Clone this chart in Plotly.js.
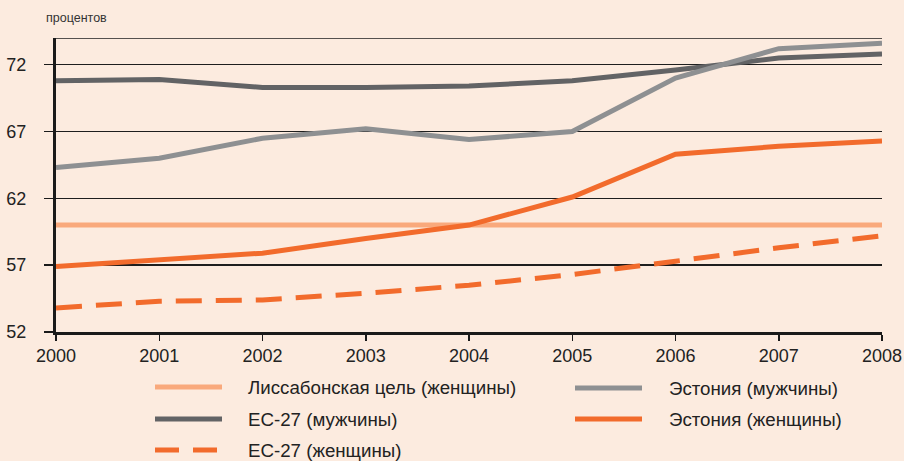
<!DOCTYPE html>
<html>
<head>
<meta charset="utf-8">
<script src="https://cdn.plot.ly/plotly-3.0.1.min.js"></script>
<style>html,body{margin:0;padding:0;background:#FCEBDF;}</style>
</head>
<body>
<div id="chart" style="width:904px;height:461px;"></div>
<script>
const years = [2000, 2001, 2002, 2003, 2004, 2005, 2006, 2007, 2008];
const lisbonTarget = [60, 60, 60, 60, 60, 60, 60, 60, 60];
const eu27Men = [70.8, 70.9, 70.3, 70.3, 70.4, 70.8, 71.6, 72.5, 72.8];
const eu27Women = [53.8, 54.3, 54.4, 54.9, 55.5, 56.3, 57.3, 58.3, 59.2];
const estoniaMen = [64.3, 65.0, 66.5, 67.2, 66.4, 67.0, 71.0, 73.2, 73.6];
const estoniaWomen = [56.9, 57.4, 57.9, 59.0, 60.0, 62.1, 65.3, 65.9, 66.3];
const yTicks = [52, 57, 62, 67, 72];
const names = ['Лиссабонская цель (женщины)', 'ЕС-27 (мужчины)', 'ЕС-27 (женщины)', 'Эстония (мужчины)', 'Эстония (женщины)'];
const colors = ['#F9A97C', '#626365', '#F26B2C', '#8E9092', '#F26B2C'];
const dashes = ['solid', 'solid', '26px,14px', 'solid', 'solid'];
const series = [lisbonTarget, eu27Men, eu27Women, estoniaMen, estoniaWomen];

const font = 'Liberation Sans, Arial, sans-serif';
const traces = series.map((s, i) => ({
  x: years, y: s, name: names[i], type: 'scatter', mode: 'lines',
  line: {color: colors[i], width: 5, dash: dashes[i]},
  showlegend: false, hoverinfo: 'skip'
}));

// manual legend layout (paper coords)
const W = 826, H = 294;
const px = v => (v - 56) / W;
const py = v => (332 - v) / H;
const legPos = [
  {x0: 155, x1: 222, tx: 246, y: 387},
  {x0: 155, x1: 222, tx: 246, y: 419},
  {x0: 155, x1: 222, tx: 246, y: 450},
  {x0: 575, x1: 642, tx: 667, y: 388},
  {x0: 575, x1: 642, tx: 667, y: 419}
];
const shapes = [
  {type: 'line', xref: 'paper', yref: 'y', x0: 0, x1: 1, y0: 74, y1: 74,
   line: {color: '#1e1e1e', width: 1.5}}
];
const annotations = [
  {text: 'процентов', xref: 'paper', yref: 'paper', x: px(44), y: py(18),
   xanchor: 'left', yanchor: 'middle', showarrow: false,
   font: {family: font, size: 12.5, color: '#333'}}
];
legPos.forEach((p, i) => {
  shapes.push({type: 'line', xref: 'paper', yref: 'paper',
    x0: px(p.x0), x1: px(p.x1), y0: py(p.y), y1: py(p.y),
    line: {color: colors[i], width: 5, dash: dashes[i] === 'solid' ? 'solid' : '24px,14px'}});
  annotations.push({text: names[i], xref: 'paper', yref: 'paper',
    x: px(p.tx), y: py(p.y), xanchor: 'left', yanchor: 'middle', showarrow: false,
    font: {family: font, size: 18.7, color: '#222'}});
});

const layout = {
  width: 904, height: 461,
  margin: {l: 56, r: 22, t: 38, b: 129},
  paper_bgcolor: '#FCEBDF', plot_bgcolor: '#FCEBDF',
  font: {family: font, color: '#222'},
  xaxis: {
    range: [2000, 2008], tickvals: years, ticktext: years.map(String),
    showgrid: false, zeroline: false, showline: true, linecolor: '#1a1a1a', linewidth: 2.5,
    ticks: 'outside', ticklen: 6, tickwidth: 1.5, tickcolor: '#1a1a1a',
    tickfont: {family: font, size: 18, color: '#222'}
  },
  yaxis: {
    range: [52, 74], tickvals: yTicks, ticktext: yTicks.map(String),
    showgrid: true, gridcolor: '#1e1e1e', gridwidth: 1.5, zeroline: false,
    showline: true, linecolor: '#1a1a1a', linewidth: 3,
    ticks: 'outside', ticklen: 9, tickwidth: 1.5, tickcolor: '#1a1a1a',
    ticklabelstandoff: 14,
    tickfont: {family: font, size: 18, color: '#222'}
  },
  shapes: shapes,
  annotations: annotations,
  showlegend: false
};
Plotly.newPlot('chart', traces, layout, {displayModeBar: false, staticPlot: true});
</script>
</body>
</html>
